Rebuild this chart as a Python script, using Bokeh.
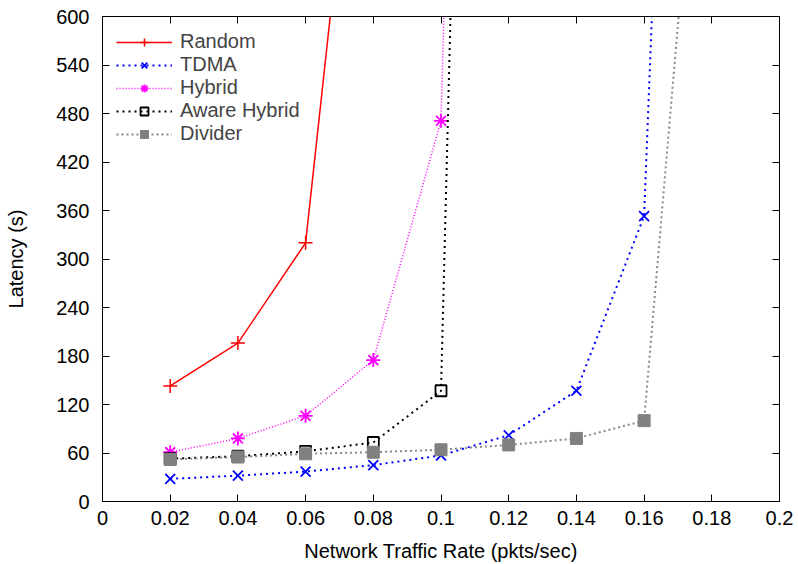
from bokeh.plotting import figure
from bokeh.models import FixedTicker, LinearAxis, Legend, LegendItem, Range1d
from bokeh.embed import file_html
from bokeh.resources import INLINE

# ---- data ----
random_x = [0.02, 0.04, 0.06, 0.08]
random_y = [143, 196, 320, 1090]

tdma_x = [0.02, 0.04, 0.06, 0.08, 0.10, 0.12, 0.14, 0.16, 0.18]
tdma_y = [28, 32, 37, 45, 57, 82, 137, 353, 2500]

hybrid_x = [0.02, 0.04, 0.06, 0.08, 0.10, 0.12]
hybrid_y = [61, 78, 106, 175, 471, 3570]

aware_x = [0.02, 0.04, 0.06, 0.08, 0.10, 0.12]
aware_y = [53, 56, 62, 73, 137, 3440]

divider_x = [0.02, 0.04, 0.06, 0.08, 0.10, 0.12, 0.14, 0.16, 0.18]
divider_y = [52, 55, 59, 61, 64, 70, 78, 100, 1080]

x_ticks = [0, 0.02, 0.04, 0.06, 0.08, 0.10, 0.12, 0.14, 0.16, 0.18, 0.20]
x_tick_labels = ["0", "0.02", "0.04", "0.06", "0.08", "0.1", "0.12", "0.14", "0.16", "0.18", "0.2"]
y_ticks = [0, 60, 120, 180, 240, 300, 360, 420, 480, 540, 600]

FONT = "Liberation Sans"
FS = "20px"

p = figure(width=798, height=564, output_backend="svg", toolbar_location=None,
           x_range=Range1d(0, 0.2), y_range=Range1d(0, 600),
           min_border_left=102, min_border_right=19, min_border_top=16, min_border_bottom=63)
p.grid.visible = False
p.outline_line_color = "black"
p.outline_line_width = 1
p.background_fill_color = "white"
p.border_fill_color = "white"

p.xaxis.ticker = FixedTicker(ticks=x_ticks)
p.xaxis.major_label_overrides = {t: l for t, l in zip(x_ticks, x_tick_labels)}
p.yaxis.ticker = FixedTicker(ticks=y_ticks)
p.yaxis.major_label_overrides = {t: str(t) for t in y_ticks}
p.xaxis.axis_label = "Network Traffic Rate (pkts/sec)"
p.yaxis.axis_label = "Latency (s)"

for ax in [p.xaxis[0], p.yaxis[0]]:
    ax.major_tick_in = 7
    ax.major_tick_out = 0
    ax.minor_tick_line_color = None
    ax.axis_line_color = "black"
    ax.major_tick_line_color = "black"
    ax.major_label_text_font = FONT
    ax.major_label_text_font_size = FS
    ax.major_label_text_color = "black"
    ax.axis_label_text_font = FONT
    ax.axis_label_text_font_size = FS
    ax.axis_label_text_font_style = "normal"
    ax.axis_label_text_color = "black"
p.xaxis.major_label_standoff = 9
p.xaxis.axis_label_standoff = 12
p.yaxis.major_label_standoff = 13
p.yaxis.axis_label_standoff = 26

# mirrored ticks on top and right (no labels)
top = LinearAxis(ticker=FixedTicker(ticks=x_ticks))
right = LinearAxis(ticker=FixedTicker(ticks=y_ticks))
for ax in [top, right]:
    ax.major_tick_in = 7
    ax.major_tick_out = 0
    ax.minor_tick_line_color = None
    ax.major_label_overrides = {t: "" for t in (x_ticks if ax is top else y_ticks)}
    ax.major_label_text_font_size = "1px"
    ax.major_label_text_color = None
    ax.major_label_standoff = 0
    ax.axis_line_color = "black"
p.add_layout(top, "above")
p.add_layout(right, "right")

# ---- series ----
r1l = p.line(random_x, random_y, line_color="#ff0000", line_width=1.5)
r1m = p.scatter(random_x, random_y, marker="cross", size=14, line_color="#ff0000", line_width=1.5)

r2l = p.line(tdma_x, tdma_y, line_color="#0000ff", line_width=2, line_dash="2 4")
r2m = p.scatter(tdma_x, tdma_y, marker="x", size=14, line_color="#0000ff", line_width=1.8)

r3l = p.line(hybrid_x, hybrid_y, line_color="#ff00ff", line_width=1.5, line_dash="1 2")
r3m = p.scatter(hybrid_x, hybrid_y, marker="asterisk", size=14, line_color="#ff00ff", line_width=1.8)

r4l = p.line(aware_x, aware_y, line_color="black", line_width=2, line_dash="2 4")
r4m = p.scatter(aware_x, aware_y, marker="square", size=11, line_color="black", fill_color=None, line_width=1.8)

r5l = p.line(divider_x, divider_y, line_color="#888888", line_width=2, line_dash="2 3")
r5m = p.scatter(divider_x, divider_y, marker="square", size=12, line_color="#808080", fill_color="#808080")

legend = Legend(items=[
    LegendItem(label="Random", renderers=[r1l, r1m]),
    LegendItem(label="TDMA", renderers=[r2l, r2m]),
    LegendItem(label="Hybrid", renderers=[r3l, r3m]),
    LegendItem(label="Aware Hybrid", renderers=[r4l, r4m]),
    LegendItem(label="Divider", renderers=[r5l, r5m]),
], location="top_left")
legend.border_line_color = None
legend.background_fill_alpha = 0
legend.label_text_font = FONT
legend.label_text_font_size = FS
legend.glyph_width = 56
legend.glyph_height = 20
legend.label_height = 20
legend.spacing = -2
legend.padding = 6
legend.margin = 14
legend.label_standoff = 8
p.add_layout(legend)

open("out.html", "w").write(file_html(p, INLINE))
